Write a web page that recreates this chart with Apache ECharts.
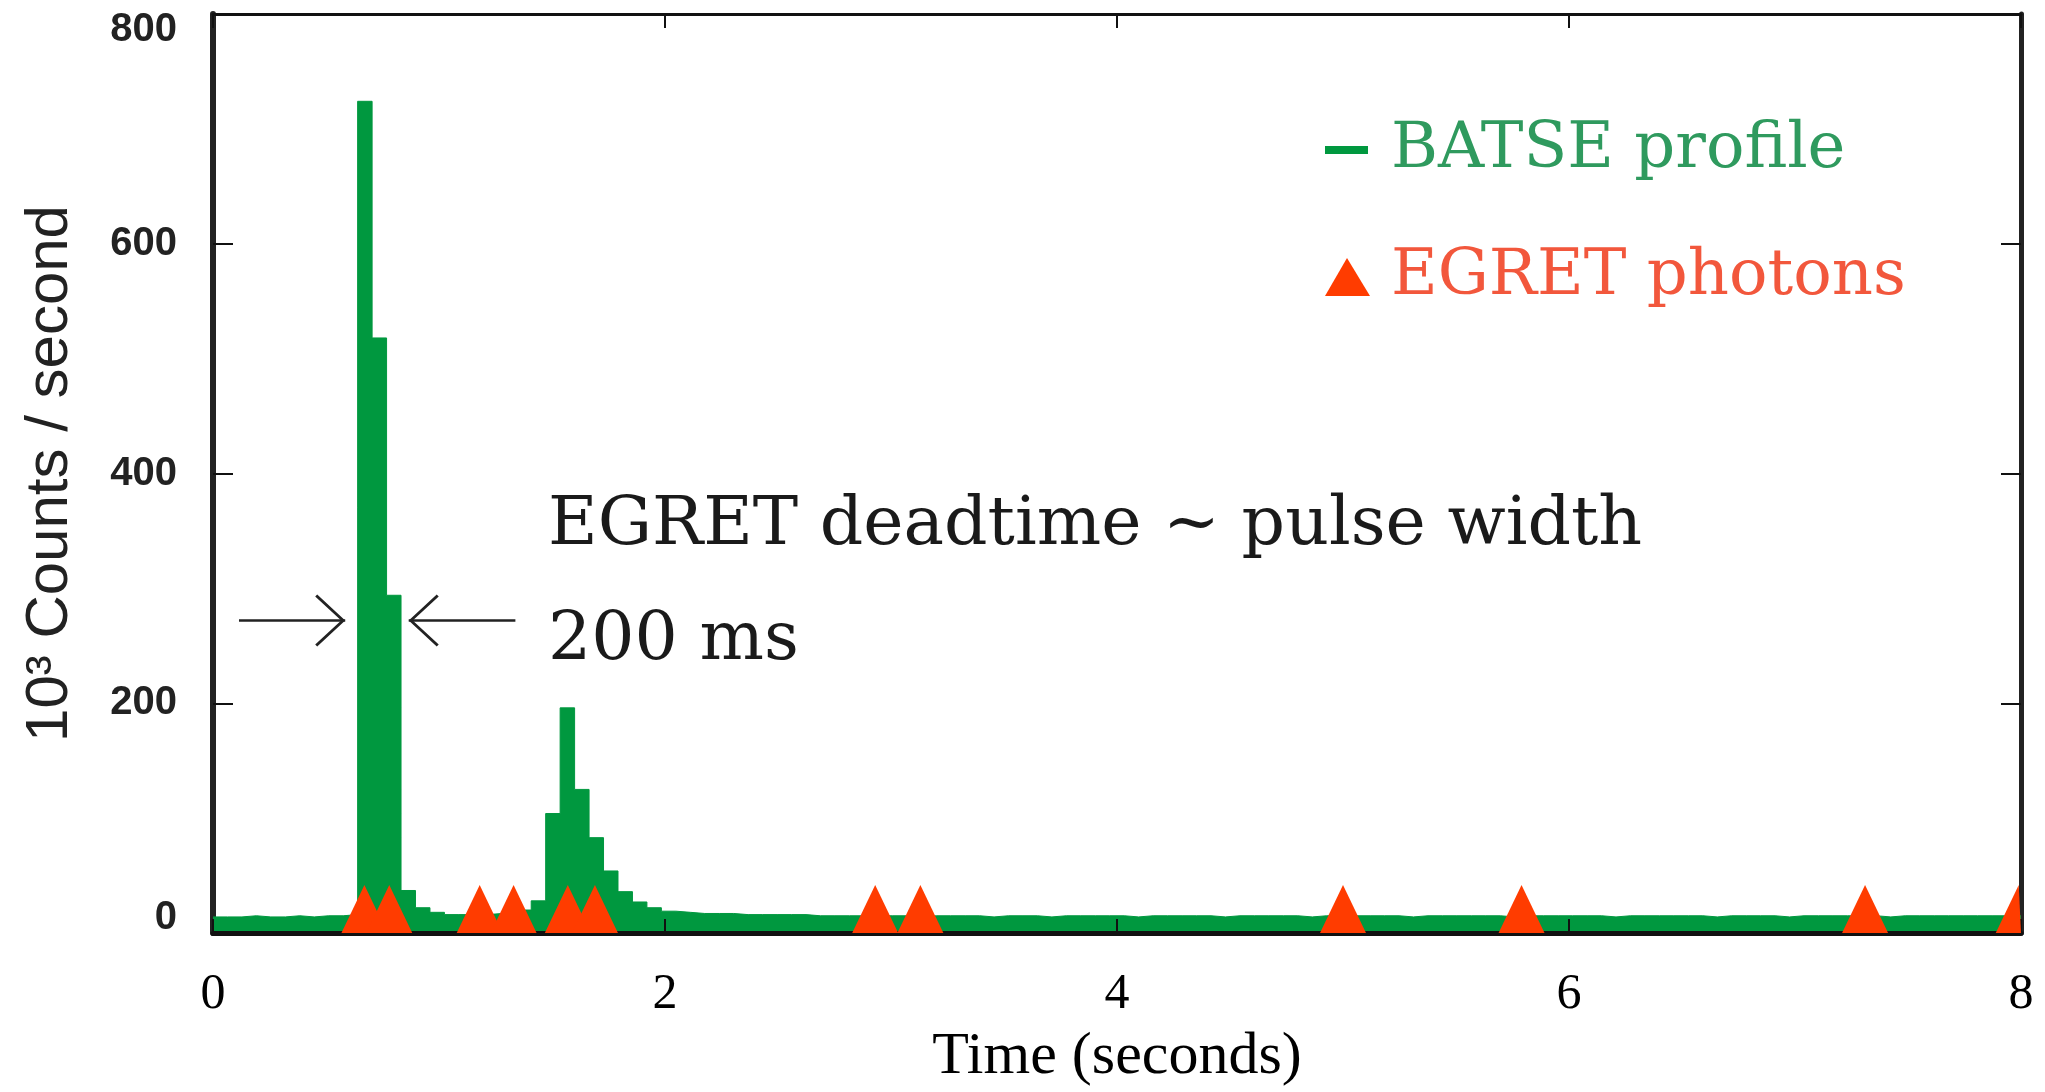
<!DOCTYPE html>
<html>
<head>
<meta charset="utf-8">
<title>BATSE / EGRET</title>
<script src="https://cdn.jsdelivr.net/npm/echarts@6.0.0/dist/echarts.min.js"></script>
<style>
html, body { margin: 0; padding: 0; background: #fff; }
#chart { width: 2045px; height: 1092px; }
</style>
</head>
<body>
<div id="chart"></div>
<script>
// BATSE 64 ms bins, 10^3 counts / second, bin 0 starts at t = 0
var binWidth = 0.064;
var batseCounts = [
    14, 14, 15, 14, 14, 15, 14, 15, 15, 16,
    724, 518, 294, 37, 22,
    18, 16, 16, 16, 17, 18, 20, 28,
    104, 196, 125, 83, 54, 36, 27, 22, 19, 18,
    17, 17, 17, 16, 16, 16, 16, 16, 15, 15, 15, 15,
    15, 15, 15, 14, 15, 15, 15, 15, 14, 15,
    15, 15, 14, 15, 15, 15, 15, 15, 14, 15,
    15, 15, 15, 15, 14, 15, 15, 15, 15, 15,
    14, 15, 15, 15, 15, 15, 15, 14, 15, 15,
    15, 15, 15, 15, 14, 15, 15, 15, 15, 15,
    15, 14, 15, 15, 15, 15, 15, 15, 14, 15,
    15, 15, 15, 14, 15, 15, 15, 15, 15, 15,
    14, 15, 15, 15, 15, 15, 15, 15, 15, 15
];
// EGRET photon arrival times (seconds)
var egretTimes = [0.67, 0.78, 1.18, 1.33, 1.57, 1.69, 2.93, 3.13, 5.00, 5.79, 7.31, 7.99];
var seriesNames = ['BATSE profile', 'EGRET photons'];

var green = '#00983f';
var red = '#ff3c00';

function stepData()
{
    var out = [];
    for (var i = 0; i < batseCounts.length; i++) {
        out.push([i * binWidth, batseCounts[i]]);
    }
    out.push([batseCounts.length * binWidth, batseCounts[batseCounts.length - 1]]);
    return out;
}

function photonItem(params, api)
{
    var p = api.coord([api.value(0), 0]);
    var cs = params.coordSys;
    var pts = [[p[0] - 23, p[1] + 2], [p[0] + 23, p[1] + 2], [p[0], p[1] - 48]];
    pts = echarts.graphic.clipPointsByRect(pts, {x: cs.x, y: cs.y, width: cs.width, height: cs.height});
    return {
        type: 'polygon',
        shape: {points: pts},
        style: {fill: api.visual('color')}
    };
}

function yLabel(v)
{
    // end labels sit a little inside the frame, like the original plot
    if (v === 0) return '{lo|0}';
    if (v === 800) return '{hi|800}';
    return String(v);
}

// open "V" arrow head, tip in the middle of the box
var chevron = 'path://M26,30L52,58L50,60L26,34L2,60L0,58Z M0,0';
var dashIcon = 'path://M0,16h43v8h-43z M0,0 M61,40';
var triIcon = 'path://M22,1L45,39H0z M0,0 M61,40';
var arrowY = 272;
var tickFont = {fontFamily: 'Liberation Sans', fontSize: 40, fontWeight: 'bold', color: '#222'};

var myChart = echarts.init(document.getElementById('chart'));
var option = {
    backgroundColor: '#fff',
    animation: false,
    grid: {left: 213, right: 24, top: 14, bottom: 144},
    legend: {
        orient: 'vertical',
        left: 1320,
        top: 110,
        itemWidth: 61,
        itemHeight: 40,
        itemGap: 57,
        textStyle: {fontFamily: 'DejaVu Serif', fontSize: 64, lineHeight: 70},
        data: [
            {name: seriesNames[0], icon: dashIcon, textStyle: {color: '#2f9a5e'}},
            {name: seriesNames[1], icon: triIcon, textStyle: {color: '#f2573c'}}
        ]
    },
    xAxis: [{
        type: 'value', min: 0, max: 8, interval: 2, position: 'bottom', z: 3,
        axisLine: {show: true, onZero: false, lineStyle: {color: '#111', width: 5}},
        axisTick: {show: true, inside: true, length: 14, lineStyle: {color: '#111', width: 2}},
        axisLabel: {fontFamily: 'Liberation Serif', fontSize: 50, color: '#000', margin: 37},
        splitLine: {show: false},
        name: 'Time (seconds)', nameLocation: 'middle', nameGap: 94,
        nameTextStyle: {fontFamily: 'Liberation Serif', fontSize: 60, color: '#000'}
    }, {
        type: 'value', min: 0, max: 8, interval: 2, position: 'top',
        axisLine: {show: true, onZero: false, lineStyle: {color: '#111', width: 3}},
        axisTick: {show: true, inside: true, length: 14, lineStyle: {color: '#111', width: 2}},
        axisLabel: {show: false},
        splitLine: {show: false}
    }],
    yAxis: [{
        type: 'value', min: 0, max: 800, interval: 200, position: 'left',
        axisLine: {show: true, onZero: false, lineStyle: {color: '#222', width: 6}},
        axisTick: {show: true, inside: true, length: 20, lineStyle: {color: '#111', width: 2}},
        axisLabel: {
            fontFamily: tickFont.fontFamily, fontSize: tickFont.fontSize, fontWeight: tickFont.fontWeight,
            color: tickFont.color, margin: 36, formatter: yLabel,
            rich: {
                lo: {fontFamily: tickFont.fontFamily, fontSize: tickFont.fontSize, fontWeight: tickFont.fontWeight, color: tickFont.color, padding: [0, 0, 30, 0]},
                hi: {fontFamily: tickFont.fontFamily, fontSize: tickFont.fontSize, fontWeight: tickFont.fontWeight, color: tickFont.color, padding: [32, 0, 0, 0]}
            }
        },
        splitLine: {show: false},
        name: '10³ Counts / second', nameLocation: 'middle', nameGap: 133, nameRotate: 90,
        nameTextStyle: {fontFamily: 'Liberation Sans', fontSize: 60, color: '#222'}
    }, {
        type: 'value', min: 0, max: 800, interval: 200, position: 'right',
        axisLine: {show: true, onZero: false, lineStyle: {color: '#222', width: 5}},
        axisTick: {show: true, inside: true, length: 20, lineStyle: {color: '#111', width: 2}},
        axisLabel: {show: false},
        splitLine: {show: false}
    }],
    series: [{
        name: seriesNames[0],
        type: 'line',
        step: 'end',
        data: stepData(),
        symbol: 'none',
        itemStyle: {color: green},
        lineStyle: {color: green, width: 1},
        areaStyle: {color: green, opacity: 1, origin: 'start'},
        markLine: {
            silent: true,
            symbol: ['none', chevron],
            symbolSize: [52, 60],
            label: {show: false},
            lineStyle: {color: '#222', width: 2.5, type: 'solid'},
            data: [
                [{coord: [0.115, arrowY]}, {coord: [0.585, arrowY]}],
                [{coord: [1.338, arrowY]}, {coord: [0.866, arrowY]}]
            ]
        }
    }, {
        name: seriesNames[1],
        type: 'custom',
        renderItem: photonItem,
        itemStyle: {color: red},
        data: egretTimes.map(function (t) { return [t, 0]; }),
        z: 4
    }],
    graphic: [
        {type: 'text', x: 548, y: 526, style: {text: 'EGRET deadtime ~ pulse width', font: '68px "DejaVu Serif"', fill: '#1a1a1a', verticalAlign: 'middle'}},
        {type: 'text', x: 548, y: 641, style: {text: '200 ms', font: '68px "DejaVu Serif"', fill: '#1a1a1a', verticalAlign: 'middle'}}
    ]
};
myChart.setOption(option);
</script>
</body>
</html>
